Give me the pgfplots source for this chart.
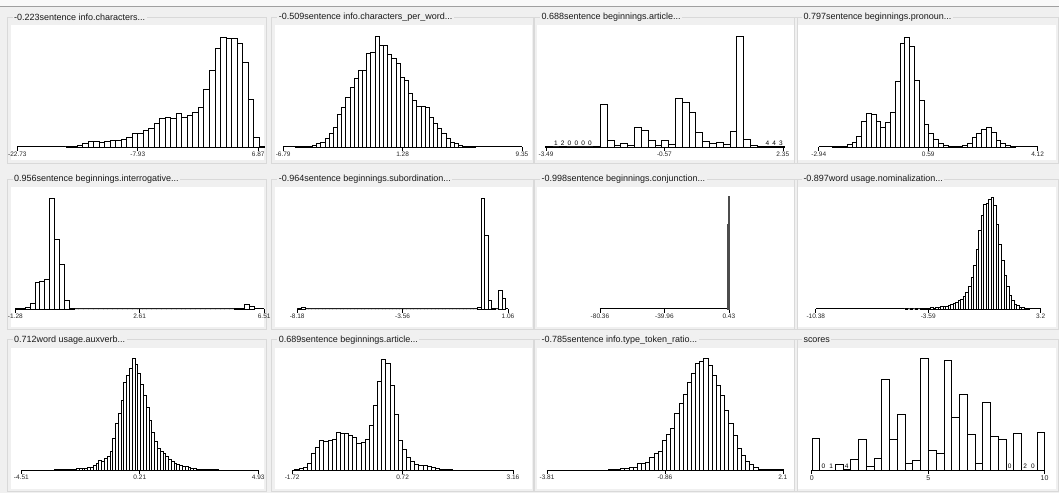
\documentclass[border=0pt]{standalone}
\usepackage{fontspec}
\setmainfont{Liberation Sans}
\usepackage{pgfplots}
\pgfplotsset{compat=1.18}
\definecolor{bg}{HTML}{F0F0F0}
\definecolor{gb}{HTML}{D9D9D9}
\definecolor{topline}{HTML}{A0A0A0}
\pgfplotsset{
 hist/.style={
   scale only axis, height=112pt, ymin=0, ymax=336,
   anchor=south west, clip=false, enlargelimits=false,
   axis x line=bottom, axis y line=none,
   every outer x axis line/.append style={-},
   axis line style={-, line width=0.9pt, black},
   tick align=outside, major tick length=4pt,
   xtick style={line width=0.6pt, black},
   xticklabel style={font=\fontsize{6.5}{7}\selectfont, inner sep=1pt, text=black!85},
 },
 bars/.style={ybar interval, fill=white, draw=black, line width=0.45pt},
}
\newcommand{\cnt}[2]{\node[font=\fontsize{6.5}{7}\selectfont, anchor=south, inner sep=0pt, yshift=1.2pt] at (axis cs:#1,0) {#2};}
\tikzset{ttl/.style={anchor=west, fill=bg, inner xsep=1.5pt, inner ysep=1pt, font=\fontsize{9}{10}\selectfont, text=black!90}}
\begin{document}
\begin{tikzpicture}[x=1pt,y=1pt]
% background
\fill[bg] (0,0) rectangle (1059,493);
\fill[white!60!bg] (0,487) rectangle (1059,493);
\draw[topline, line width=0.8pt] (0,487) -- (1059,487);
% group boxes and white plot areas
\foreach \wl/\wr in {11/264, 275/532, 537/795, 798/1056}{
  \foreach \ty/\wt/\wb in {476/468/333, 314/306/166, 153/145/4}{
    \draw[gb, line width=0.6pt] (\wl-4,\wb-3) rectangle (\wr+2.5,\ty);
    \fill[white] (\wl,\wb) rectangle (\wr,\wt);
  }
}
% titles
\node[ttl] at (12,476) {-0.223sentence info.characters...};
\node[ttl] at (277,476) {-0.509sentence info.characters\_per\_word...};
\node[ttl] at (540,476) {0.688sentence beginnings.article...};
\node[ttl] at (802,476) {0.797sentence beginnings.pronoun...};
\node[ttl] at (12,314) {0.956sentence beginnings.interrogative...};
\node[ttl] at (277,314) {-0.964sentence beginnings.subordination...};
\node[ttl] at (540,314) {-0.998sentence beginnings.conjunction...};
\node[ttl] at (802,314) {-0.897word usage.nominalization...};
\node[ttl] at (12,153) {0.712word usage.auxverb...};
\node[ttl] at (277,153) {0.689sentence beginnings.article...};
\node[ttl] at (540,153) {-0.785sentence info.type\_token\_ratio...};
\node[ttl] at (802,153) {scores};

% ---- Panel 1
\begin{axis}[hist, at={(17pt,346pt)}, width=241pt, xmin=-22.73, xmax=6.87,
  xtick={-22.73,-7.93,6.87}, xticklabels={-22.73,-7.93,6.87}]
\addplot[bars] table[x expr={-16.77+\coordindex*0.6777}, y index=0, header=false, row sep=\\]{
2\\3\\6\\12\\17\\17\\14\\17\\19\\19\\24\\30\\40\\40\\50\\55\\70\\85\\88\\85\\100\\90\\95\\105\\118\\172\\230\\295\\330\\327\\327\\312\\255\\142\\30\\2\\0\\};
\end{axis}
% ---- Panel 2
\begin{axis}[hist, at={(283pt,346pt)}, width=239pt, xmin=-6.79, xmax=9.35,
  xtick={-6.79,1.28,9.35}, xticklabels={-6.79,1.28,9.35}]
\addplot[bars] table[x expr={-5.955+\coordindex*0.2822}, y index=0, header=false, row sep=\\]{
2\\1\\2\\3\\5\\10\\15\\27\\40\\60\\98\\120\\150\\178\\205\\230\\230\\280\\285\\332\\305\\305\\277\\265\\252\\208\\200\\162\\140\\122\\122\\118\\90\\70\\55\\42\\27\\15\\10\\5\\2\\2\\1\\0\\};
\end{axis}
% ---- Panel 3
\begin{axis}[hist, at={(546pt,346pt)}, width=237pt, xmin=-3.49, xmax=2.35,
  xtick={-3.49,-0.57,2.35}, xticklabels={-3.49,-0.57,2.35}]
\addplot[bars] table[x expr={-3.498+\coordindex*0.16815}, y index=0, header=false, row sep=\\]{
3\\0.4\\0.6\\0\\0\\0\\0\\3\\127\\20\\5\\10\\5\\58\\50\\20\\5\\20\\7\\145\\135\\103\\43\\17\\10\\14\\7\\46\\332\\22\\5\\3\\1\\1\\1\\0\\};
\cnt{-3.246}{1}\cnt{-3.078}{2}\cnt{-2.910}{0}\cnt{-2.742}{0}\cnt{-2.573}{0}\cnt{-2.405}{0}
\cnt{1.969}{4}\cnt{2.137}{4}\cnt{2.305}{3}
\end{axis}
% ---- Panel 4
\begin{axis}[hist, at={(819pt,346pt)}, width=219pt, xmin=-2.94, xmax=4.12,
  xtick={-2.94,0.59,4.12}, xticklabels={-2.94,0.59,4.12}]
\addplot[bars] table[x expr={-2.493+\coordindex*0.15474}, y index=0, header=false, row sep=\\]{
2\\2\\3\\7\\15\\32\\78\\100\\98\\77\\60\\73\\105\\197\\310\\330\\302\\200\\140\\68\\42\\22\\10\\6\\3\\3\\3\\6\\12\\28\\42\\53\\58\\45\\20\\10\\5\\3\\0\\};
\end{axis}
% ---- Panel 5
\begin{axis}[hist, at={(15pt,184pt)}, width=249pt, xmin=-1.28, xmax=6.51,
  xtick={-1.28,2.61,6.51}, xticklabels={-1.28,2.61,6.51}]
\addplot[bars] table[x expr={-1.285+\coordindex*0.15269}, y index=0, header=false, row sep=\\]{
2\\1\\5\\17\\80\\82\\88\\333\\208\\133\\25\\2\\
0\\0\\0\\0\\0\\0\\0\\0\\0\\0\\0\\0\\0\\0\\0\\0\\0\\0\\0\\0\\0\\0\\0\\0\\0\\0\\0\\0\\0\\0\\0\\0\\0\\
2\\2\\14\\9\\0\\};
\end{axis}
% ---- Panel 6
\begin{axis}[hist, at={(297pt,184pt)}, width=211pt, xmin=-8.18, xmax=1.06,
  xtick={-8.18,-3.56,1.06}, xticklabels={-8.18,-3.56,1.06}]
\addplot[bars] table[x expr={-8.154+\coordindex*0.15424}, y index=0, header=false, row sep=\\]{
3\\5\\
0\\0\\0\\0\\0\\0\\0\\0\\0\\0\\0\\0\\0\\0\\0\\0\\0\\0\\0\\0\\0\\0\\0\\0\\0\\0\\0\\0\\0\\0\\0\\0\\0\\0\\0\\0\\0\\0\\0\\0\\0\\0\\0\\0\\0\\0\\0\\0\\0\\
5\\333\\222\\25\\2\\0\\57\\33\\0\\};
\end{axis}
% ---- Panel 7
\begin{axis}[hist, at={(600pt,184pt)}, width=129pt, xmin=-80.36, xmax=0.43,
  xtick={-80.36,-39.96,0.43}, xticklabels={-80.36,-39.96,0.43}]
\addplot[bars, line width=0.3pt, draw=black!70] coordinates {(-0.35,255) (0.0,338) (0.35,0)};
\end{axis}
% ---- Panel 8
\begin{axis}[hist, at={(816pt,184pt)}, width=225pt, xmin=-10.38, xmax=3.2,
  xtick={-10.38,-3.59,3.2}, xticklabels={-10.38,-3.59,3.2}]
\addplot[bars] table[x expr={-5.0005+\coordindex*0.15312}, y index=0, header=false, row sep=\\]{
2\\0\\2\\0\\2\\0\\2\\2\\3\\3\\4\\3\\5\\6\\7\\8\\9\\10\\13\\16\\20\\25\\30\\38\\50\\68\\95\\130\\180\\235\\280\\315\\318\\328\\335\\310\\255\\195\\145\\100\\68\\42\\25\\15\\10\\6\\4\\3\\2\\0\\};
\end{axis}
% ---- Panel 9
\begin{axis}[hist, at={(21pt,22.5pt)}, width=237pt, xmin=-4.51, xmax=4.93,
  xtick={-4.51,0.21,4.93}, xticklabels={-4.51,0.21,4.93}]
\addplot[bars] table[x expr={-3.2125+\coordindex*0.11122}, y index=0, header=false, row sep=\\]{
2\\2\\2\\2\\2\\3\\4\\4\\5\\5\\6\\7\\8\\10\\14\\22\\30\\28\\35\\42\\58\\95\\140\\172\\210\\265\\285\\305\\337\\318\\290\\258\\225\\190\\150\\115\\88\\65\\57\\50\\42\\34\\27\\21\\17\\14\\12\\11\\9\\7\\5\\4\\3\\2\\2\\2\\2\\2\\2\\0\\};
\end{axis}
% ---- Panel 10
\begin{axis}[hist, at={(292pt,22.5pt)}, width=221pt, xmin=-1.72, xmax=3.16,
  xtick={-1.72,0.72,3.16}, xticklabels={-1.72,0.72,3.16}]
\addplot[bars] table[x expr={-1.665+\coordindex*0.091362}, y index=0, header=false, row sep=\\]{
3\\6\\10\\20\\50\\70\\91\\88\\90\\93\\113\\111\\111\\106\\100\\80\\83\\93\\135\\195\\268\\333\\320\\255\\168\\91\\63\\40\\26\\18\\15\\15\\11\\8\\6\\3\\3\\2\\1\\0\\};
\end{axis}
% ---- Panel 11
\begin{axis}[hist, at={(547pt,22.5pt)}, width=236pt, xmin=-3.81, xmax=2.1,
  xtick={-3.81,-0.855,2.1}, xticklabels={-3.81,-0.86,2.1}]
\addplot[bars] table[x expr={-2.2824+\coordindex*0.10434}, y index=0, header=false, row sep=\\]{
2\\3\\3\\5\\7\\8\\10\\22\\22\\25\\40\\50\\57\\90\\107\\125\\170\\200\\228\\265\\290\\320\\328\\335\\315\\285\\255\\225\\180\\140\\105\\65\\45\\27\\18\\8\\4\\3\\2\\2\\2\\2\\0\\};
\end{axis}
% ---- Panel 12
\begin{axis}[hist, at={(812pt,22.5pt)}, width=233pt, xmin=0, xmax=10,
  xtick={0,5,10}, xticklabels={0,5,10},
  xticklabel style={font=\fontsize{7}{8}\selectfont}]
\addplot[bars] table[x expr={\coordindex*0.333333}, y index=0, header=false, row sep=\\]{
95\\0\\0.5\\17\\1.5\\32\\92\\13\\35\\273\\92\\169\\21\\29\\335\\59\\51\\330\\159\\227\\108\\21\\203\\102\\93\\0\\110\\0.8\\0\\115\\0\\};
\cnt{0.5}{0}\cnt{0.833}{1}\cnt{1.5}{4}\cnt{8.5}{0}\cnt{9.167}{2}\cnt{9.5}{0}
\end{axis}
\useasboundingbox (0,0) rectangle (1059,493);
\end{tikzpicture}
\end{document}
